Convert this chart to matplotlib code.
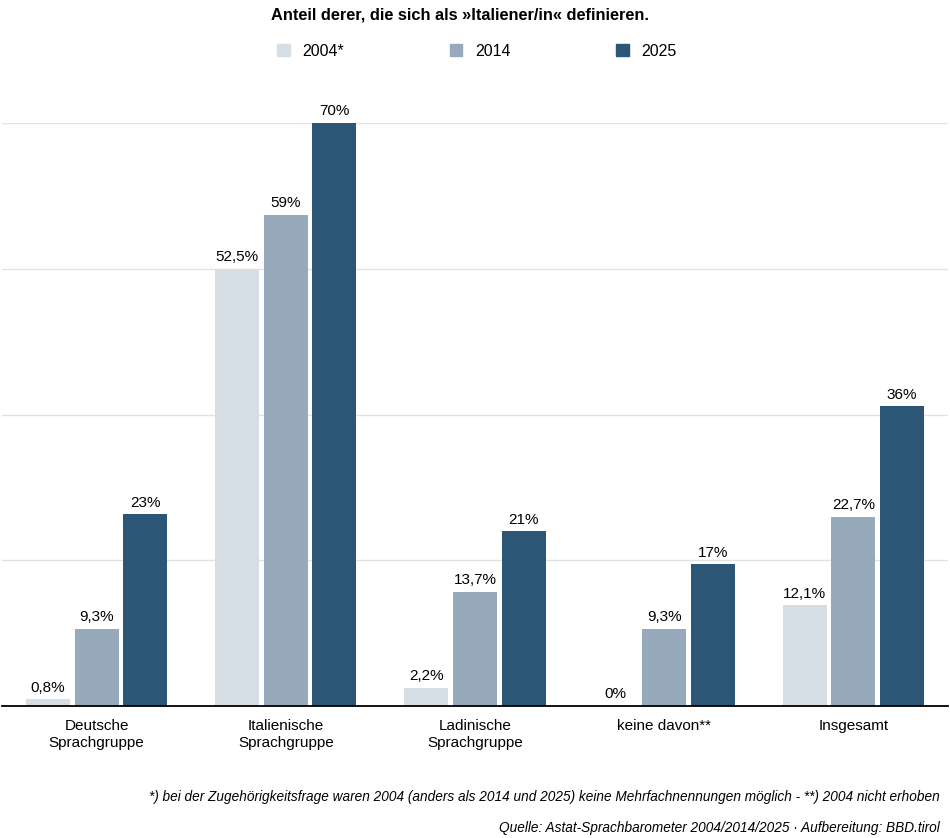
import matplotlib.pyplot as plt
from matplotlib.patches import Patch
import numpy as np

plt.rcParams['font.family'] = ['Liberation Sans', 'DejaVu Sans']

categories = ["Deutsche\nSprachgruppe", "Italienische\nSprachgruppe", "Ladinische\nSprachgruppe",
              "keine davon**", "Insgesamt"]
years = ["2004*", "2014", "2025"]
v2004 = [0.8, 52.5, 2.2, 0, 12.1]
v2014 = [9.3, 59, 13.7, 9.3, 22.7]
v2025 = [23, 70, 21, 17, 36]
colors = ["#d5dde5", "#97aabb", "#2c5676"]


def fmt(v):
    if float(v).is_integer():
        return "%d%%" % v
    return ("%.1f%%" % v).replace(".", ",")


fig = plt.figure(figsize=(9.5, 8.38), dpi=100)
ax = fig.add_axes([2 / 950, 132 / 838, 946 / 950, 583 / 838])

x = np.arange(len(categories))
width = 0.233
step = 0.257
for i, (vals, c) in enumerate(zip([v2004, v2014, v2025], colors)):
    pos = x + (i - 1) * step
    ax.bar(pos, vals, width=width, color=c, zorder=3)
    for p, v in zip(pos, vals):
        ax.text(p, v + 0.55, fmt(v), ha="center", va="bottom", fontsize=11, clip_on=False)

ax.set_xlim(-0.5, len(categories) - 0.5)
ax.set_ylim(0, 70)
ax.set_yticks([17.5, 35, 52.5, 70])
ax.yaxis.grid(True, color="#e2e2e2", linewidth=1, zorder=0)
ax.tick_params(axis="y", left=False, labelleft=False)
ax.tick_params(axis="x", bottom=False, labelsize=11, pad=6)
ax.set_xticks(x)
ax.set_xticklabels(categories, linespacing=1.3)
for s in ["top", "left", "right"]:
    ax.spines[s].set_visible(False)
ax.spines["bottom"].set_color("black")
ax.spines["bottom"].set_linewidth(1.3)
ax.spines["bottom"].set_zorder(4)

fig.text(0.484, 1 - 15 / 838, "Anteil derer, die sich als »Italiener/in« definieren.",
         ha="center", va="center", fontsize=11.8, fontweight="bold")

handles = [Patch(color=c, label=y) for c, y in zip(colors, years)]
fig.legend(handles=handles, loc="center", bbox_to_anchor=(0.502, 1 - 51 / 838), ncol=3,
           frameon=False, fontsize=11.5, handlelength=0.8, handleheight=0.8,
           handletextpad=0.8, columnspacing=6.6)

fig.text(940 / 950, 1 - 797 / 838,
         "*) bei der Zugehörigkeitsfrage waren 2004 (anders als 2014 und 2025) keine Mehrfachnennungen möglich - **) 2004 nicht erhoben",
         ha="right", va="center", fontsize=9.8, style="italic")
fig.text(940 / 950, 1 - 828 / 838,
         "Quelle: Astat-Sprachbarometer 2004/2014/2025 · Aufbereitung: BBD.tirol",
         ha="right", va="center", fontsize=9.8, style="italic")

fig.savefig("out.png", dpi=100)
